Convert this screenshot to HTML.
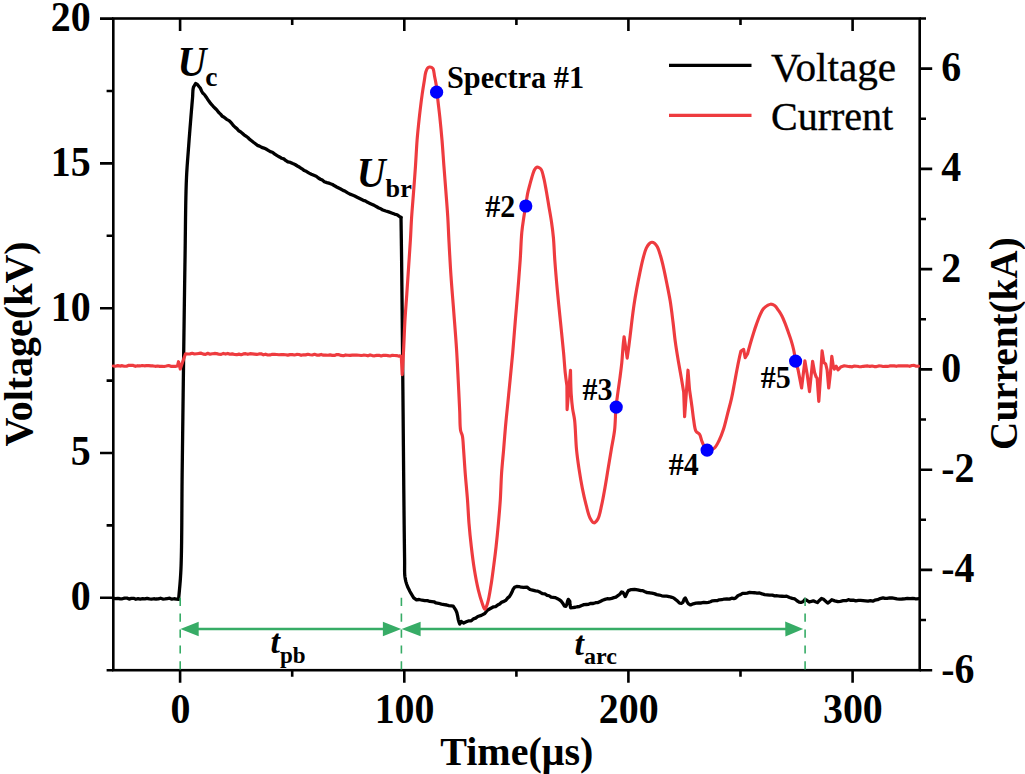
<!DOCTYPE html>
<html><head><meta charset="utf-8"><style>
html,body{margin:0;padding:0;background:#fff;}
svg{display:block;}
text{fill:#000;}
</style></head><body>
<svg width="1025" height="774" viewBox="0 0 1025 774">
<rect width="1025" height="774" fill="#fff"/>
<rect x="113.3" y="18.5" width="806.4" height="651.7" fill="none" stroke="#000" stroke-width="2.6"/>
<path d="M180.1,670.2 V682.7 M180.1,18.5 V31.0 M292.2,670.2 V676.7 M292.2,18.5 V25.0 M404.3,670.2 V682.7 M404.3,18.5 V31.0 M516.4,670.2 V676.7 M516.4,18.5 V25.0 M628.4,670.2 V682.7 M628.4,18.5 V31.0 M740.5,670.2 V676.7 M740.5,18.5 V25.0 M852.6,670.2 V682.7 M852.6,18.5 V31.0 M113.3,670.2 H106.6 M113.3,597.8 H100.0 M113.3,525.4 H106.6 M113.3,453.0 H100.0 M113.3,380.6 H106.6 M113.3,308.2 H100.0 M113.3,235.8 H106.6 M113.3,163.4 H100.0 M113.3,91.0 H106.6 M113.3,18.6 H100.0 M919.7,670.2 H932.2 M919.7,620.0 H926.0 M919.7,569.9 H932.2 M919.7,519.8 H926.0 M919.7,469.7 H932.2 M919.7,419.5 H926.0 M919.7,369.4 H932.2 M919.7,319.3 H926.0 M919.7,269.1 H932.2 M919.7,219.0 H926.0 M919.7,168.9 H932.2 M919.7,118.7 H926.0 M919.7,68.6 H932.2 M919.7,18.5 H926.0" stroke="#000" stroke-width="2.6" fill="none"/>
<line x1="198" y1="629.0" x2="383" y2="629.0" stroke="#37ac66" stroke-width="2.4"/>
<polygon points="180.4,629.0 198.7,621.7 198.7,636.3" fill="#37ac66"/>
<polygon points="401.2,629.0 382.9,621.7 382.9,636.3" fill="#37ac66"/>
<line x1="420" y1="629.0" x2="786" y2="629.0" stroke="#37ac66" stroke-width="2.4"/>
<polygon points="401.6,629.0 420.6,621.7 420.6,636.3" fill="#37ac66"/>
<polygon points="803.2,629.0 785.2,621.5 785.4,636.5" fill="#37ac66"/>
<path d="M113.30,598.29 L115.55,598.66 L117.80,598.46 L120.06,598.75 L122.31,598.78 L124.56,598.11 L126.81,598.06 L129.06,599.05 L131.31,598.37 L133.57,598.34 L135.82,599.26 L138.07,598.64 L140.32,599.09 L142.57,598.66 L144.82,598.86 L147.08,598.28 L149.33,598.87 L151.58,599.16 L153.83,598.75 L156.08,599.02 L158.33,598.94 L160.59,598.22 L162.84,599.06 L165.09,598.87 L167.34,598.53 L169.59,598.21 L171.84,599.22 L174.10,598.75 L176.35,599.06 L178.60,599.25 L178.60,599.25 L178.70,598.01 L178.84,596.54 L179.00,594.86 L179.17,592.98 L179.37,590.93 L179.57,588.71 L179.78,586.35 L179.99,583.86 L180.20,581.25 L180.40,578.54 L180.58,575.76 L180.75,572.90 L180.90,570.00 L180.97,568.41 L181.04,566.77 L181.10,565.08 L181.16,563.33 L181.21,561.53 L181.26,559.69 L181.31,557.80 L181.36,555.87 L181.40,553.90 L181.45,551.88 L181.48,549.83 L181.52,547.74 L181.55,545.61 L181.59,543.45 L181.62,541.26 L181.64,539.04 L181.67,536.80 L181.69,534.53 L181.72,532.23 L181.74,529.91 L181.76,527.57 L181.78,525.21 L181.80,522.84 L181.81,520.45 L181.83,518.05 L181.85,515.63 L181.86,513.21 L181.88,510.78 L181.89,508.34 L181.91,505.90 L181.92,503.45 L181.94,501.01 L181.95,498.56 L181.97,496.12 L181.98,493.69 L182.00,491.26 L182.02,488.84 L182.03,486.43 L182.05,484.03 L182.08,481.65 L182.10,479.28 L182.12,476.93 L182.15,474.60 L182.17,472.29 L182.20,470.00 L182.23,467.85 L182.26,465.69 L182.28,463.53 L182.31,461.36 L182.34,459.19 L182.37,457.01 L182.39,454.83 L182.42,452.64 L182.45,450.45 L182.48,448.25 L182.50,446.05 L182.53,443.85 L182.56,441.64 L182.59,439.43 L182.62,437.22 L182.64,435.01 L182.67,432.79 L182.70,430.57 L182.73,428.35 L182.75,426.13 L182.78,423.90 L182.81,421.68 L182.84,419.45 L182.87,417.23 L182.89,415.00 L182.92,412.77 L182.95,410.55 L182.98,408.32 L183.01,406.10 L183.03,403.87 L183.06,401.65 L183.09,399.43 L183.12,397.21 L183.15,394.99 L183.17,392.78 L183.20,390.57 L183.23,388.36 L183.26,386.15 L183.29,383.95 L183.31,381.75 L183.34,379.55 L183.37,377.36 L183.40,375.17 L183.43,372.99 L183.46,370.81 L183.49,368.64 L183.51,366.47 L183.54,364.31 L183.57,362.15 L183.60,360.00 L183.63,357.72 L183.66,355.45 L183.69,353.17 L183.72,350.90 L183.75,348.62 L183.78,346.34 L183.81,344.07 L183.84,341.79 L183.87,339.52 L183.90,337.24 L183.93,334.97 L183.96,332.70 L183.99,330.43 L184.03,328.17 L184.06,325.90 L184.09,323.64 L184.12,321.38 L184.15,319.12 L184.18,316.87 L184.21,314.62 L184.24,312.37 L184.27,310.13 L184.30,307.89 L184.33,305.65 L184.36,303.42 L184.39,301.19 L184.42,298.97 L184.46,296.75 L184.49,294.54 L184.52,292.33 L184.55,290.13 L184.58,287.93 L184.61,285.74 L184.64,283.56 L184.68,281.38 L184.71,279.21 L184.74,277.05 L184.77,274.89 L184.80,272.74 L184.84,270.60 L184.87,268.46 L184.90,266.33 L184.93,264.21 L184.97,262.10 L185.00,260.00 L185.04,257.65 L185.07,255.28 L185.10,252.91 L185.14,250.52 L185.17,248.13 L185.20,245.73 L185.23,243.33 L185.26,240.93 L185.28,238.52 L185.31,236.12 L185.34,233.72 L185.37,231.33 L185.40,228.94 L185.43,226.56 L185.45,224.20 L185.48,221.84 L185.51,219.50 L185.54,217.17 L185.58,214.86 L185.61,212.58 L185.64,210.31 L185.68,208.06 L185.71,205.84 L185.75,203.65 L185.79,201.48 L185.84,199.34 L185.88,197.24 L185.93,195.17 L185.98,193.13 L186.03,191.13 L186.08,189.17 L186.14,187.25 L186.20,185.37 L186.26,183.53 L186.33,181.74 L186.40,180.00 L186.52,177.28 L186.65,174.68 L186.78,172.20 L186.92,169.81 L187.07,167.50 L187.22,165.26 L187.38,163.08 L187.53,160.94 L187.69,158.83 L187.86,156.73 L188.02,154.63 L188.18,152.52 L188.34,150.38 L188.50,148.20 L188.68,145.76 L188.86,143.33 L189.04,140.89 L189.22,138.46 L189.41,136.05 L189.60,133.65 L189.78,131.27 L189.97,128.91 L190.15,126.58 L190.34,124.28 L190.52,122.02 L190.70,119.80 L190.91,117.25 L191.12,114.71 L191.33,112.19 L191.53,109.71 L191.74,107.28 L191.94,104.92 L192.13,102.64 L192.32,100.46 L192.50,98.40 L192.67,95.80 L192.77,93.30 L192.89,90.97 L193.11,88.88 L193.50,87.10 L195.60,83.50 L197.36,84.40 L199.20,86.79 L200.43,88.28 L201.53,90.96 L202.70,93.04 L204.47,94.63 L206.30,97.20 L207.68,99.29 L209.06,101.34 L210.60,103.42 L212.07,105.01 L213.66,106.84 L215.32,108.52 L217.00,110.15 L218.75,112.45 L220.55,114.12 L222.35,116.34 L224.10,117.24 L226.59,119.35 L229.10,120.65 L230.60,122.24 L232.15,123.95 L233.72,125.83 L235.31,127.42 L236.90,128.61 L238.68,130.76 L240.48,131.75 L242.27,133.22 L244.00,134.83 L245.95,136.19 L247.83,137.49 L249.70,139.35 L251.55,140.72 L253.38,142.20 L255.40,143.70 L257.37,145.35 L259.51,146.11 L261.72,147.38 L263.90,148.08 L266.05,149.03 L268.21,150.36 L270.34,151.66 L272.40,152.24 L274.80,154.11 L277.11,155.61 L279.50,156.94 L281.61,158.22 L283.79,158.88 L285.98,160.66 L288.10,161.99 L290.45,162.40 L292.73,163.49 L295.00,164.51 L297.35,166.00 L299.68,167.30 L302.00,168.78 L304.32,170.58 L306.64,171.58 L309.10,173.14 L311.37,174.28 L313.80,175.26 L316.21,176.20 L318.40,177.98 L320.44,179.26 L322.29,180.08 L324.30,181.70 L326.91,182.59 L329.72,183.43 L332.50,184.48 L334.59,185.79 L336.66,186.97 L338.70,188.04 L340.70,189.05 L343.03,190.37 L345.31,191.32 L347.70,192.84 L349.96,194.12 L352.35,195.07 L354.75,196.04 L357.10,197.24 L359.17,198.31 L361.20,199.33 L363.23,200.31 L365.30,200.90 L367.61,202.36 L369.96,203.41 L372.30,204.47 L374.60,205.60 L376.71,206.78 L378.81,208.02 L380.85,208.82 L382.80,209.96 L385.80,211.01 L388.70,211.90 L391.59,212.97 L394.50,214.06 L396.90,214.74 L399.31,216.37 L401.00,217.40" stroke="#000" stroke-width="3.3" fill="none" stroke-linejoin="round" stroke-linecap="round"/>
<path d="M401.00,217.40 L401.02,218.61 L401.04,219.98 L401.06,221.51 L401.09,223.20 L401.11,225.02 L401.14,226.97 L401.17,229.04 L401.21,231.22 L401.24,233.51 L401.27,235.89 L401.31,238.35 L401.35,240.89 L401.38,243.50 L401.42,246.16 L401.46,248.87 L401.49,251.62 L401.53,254.40 L401.57,257.19 L401.60,260.00 L401.62,261.68 L401.64,263.40 L401.66,265.16 L401.68,266.96 L401.70,268.79 L401.72,270.67 L401.74,272.57 L401.77,274.51 L401.79,276.48 L401.81,278.49 L401.83,280.52 L401.85,282.58 L401.87,284.67 L401.90,286.79 L401.92,288.93 L401.94,291.10 L401.96,293.29 L401.99,295.50 L402.01,297.73 L402.03,299.98 L402.05,302.25 L402.08,304.54 L402.10,306.84 L402.12,309.16 L402.15,311.50 L402.17,313.84 L402.19,316.20 L402.21,318.57 L402.24,320.95 L402.26,323.33 L402.28,325.72 L402.31,328.12 L402.33,330.52 L402.35,332.93 L402.38,335.34 L402.40,337.75 L402.42,340.16 L402.44,342.57 L402.47,344.97 L402.49,347.38 L402.51,349.77 L402.54,352.17 L402.56,354.55 L402.58,356.93 L402.60,359.30 L402.63,361.65 L402.65,364.00 L402.67,366.33 L402.69,368.65 L402.71,370.96 L402.74,373.24 L402.76,375.52 L402.78,377.77 L402.80,380.00 L402.82,382.23 L402.84,384.47 L402.86,386.73 L402.88,388.99 L402.91,391.27 L402.93,393.56 L402.95,395.86 L402.97,398.16 L402.99,400.48 L403.01,402.80 L403.03,405.12 L403.05,407.46 L403.07,409.79 L403.10,412.14 L403.12,414.48 L403.14,416.83 L403.16,419.18 L403.18,421.53 L403.20,423.87 L403.22,426.22 L403.24,428.57 L403.26,430.91 L403.28,433.26 L403.30,435.59 L403.32,437.93 L403.34,440.25 L403.36,442.57 L403.38,444.89 L403.41,447.19 L403.43,449.49 L403.45,451.78 L403.47,454.06 L403.49,456.32 L403.51,458.58 L403.53,460.82 L403.55,463.05 L403.57,465.27 L403.59,467.47 L403.61,469.65 L403.63,471.82 L403.65,473.97 L403.67,476.10 L403.69,478.21 L403.71,480.31 L403.73,482.38 L403.74,484.44 L403.76,486.47 L403.78,488.47 L403.80,490.46 L403.82,492.42 L403.84,494.35 L403.86,496.26 L403.88,498.15 L403.90,500.00 L403.93,502.60 L403.95,505.19 L403.98,507.78 L404.01,510.35 L404.04,512.90 L404.06,515.44 L404.09,517.95 L404.12,520.44 L404.14,522.91 L404.17,525.35 L404.20,527.76 L404.22,530.13 L404.25,532.47 L404.28,534.77 L404.30,537.03 L404.33,539.25 L404.36,541.42 L404.38,543.54 L404.41,545.60 L404.43,547.62 L404.46,549.58 L404.48,551.48 L404.51,553.32 L404.53,555.09 L404.55,556.80 L404.58,558.43 L404.60,560.00 L404.62,562.95 L404.61,565.66 L404.60,568.14 L404.59,570.43 L404.63,572.56 L404.72,574.58 L404.90,576.50 L405.32,579.24 L405.88,581.64 L406.60,584.00 L407.52,586.46 L408.61,588.87 L409.80,591.20 L411.03,593.47 L412.35,595.58 L413.70,597.82 L416.50,599.78 L419.11,599.50 L422.10,600.24 L424.70,600.63 L427.44,600.69 L429.90,601.46 L434.00,601.79 L436.04,602.94 L438.58,603.28 L441.38,604.09 L444.18,604.57 L446.74,605.00 L448.80,605.56 L451.28,605.89 L453.20,606.16 L455.80,610.20 L456.79,612.47 L457.60,615.91 L458.32,619.84 L459.06,622.41 L459.80,624.05 L461.10,621.36 L463.70,623.02 L466.27,621.83 L469.00,620.78 L471.25,620.78 L473.40,618.88 L475.63,618.14 L477.80,616.49 L481.30,615.37 L484.80,613.50 L487.40,610.19 L490.00,608.73 L493.60,606.79 L495.53,606.61 L497.62,605.09 L499.70,604.04 L501.84,602.06 L503.98,601.41 L505.90,600.28 L507.80,597.90 L509.40,596.61 L510.77,594.39 L512.00,592.06 L513.17,589.21 L514.60,587.35 L516.68,586.46 L519.00,586.53 L521.22,587.22 L523.40,587.48 L527.00,587.15 L530.00,589.49 L532.54,590.13 L535.50,590.81 L537.73,591.10 L540.18,592.33 L542.64,593.68 L544.90,593.90 L547.12,595.32 L549.18,595.75 L551.10,597.11 L555.00,597.58 L557.05,598.44 L559.21,599.65 L561.20,601.18 L562.96,603.53 L564.56,606.17 L565.90,606.31 L566.89,604.14 L567.58,601.19 L568.30,599.36 L569.80,601.22 L570.00,604.50 L570.60,607.74 L572.61,607.57 L575.30,607.24 L577.21,606.75 L579.38,606.52 L581.68,605.45 L583.99,604.60 L586.20,604.51 L588.59,604.36 L590.95,603.34 L593.28,603.48 L595.60,602.70 L597.94,602.51 L600.26,601.39 L602.60,600.20 L605.00,599.39 L607.17,598.70 L609.45,598.84 L611.73,598.37 L613.91,597.65 L615.90,597.15 L617.93,595.67 L619.84,594.28 L621.53,592.02 L622.90,592.44 L624.19,594.28 L625.20,596.61 L626.10,595.12 L627.06,592.79 L628.40,590.65 L631.30,589.56 L634.60,589.48 L637.65,589.96 L640.90,590.69 L642.88,590.67 L645.01,591.67 L647.24,592.61 L649.52,592.76 L651.80,593.10 L654.25,593.63 L656.78,594.62 L659.32,595.01 L661.85,595.78 L664.30,596.19 L666.60,596.04 L668.90,596.51 L671.15,597.15 L673.27,597.74 L675.20,599.13 L677.53,601.12 L679.58,603.22 L681.40,603.33 L682.86,602.45 L684.12,599.23 L685.30,598.02 L686.25,599.79 L687.12,601.84 L688.50,603.85 L690.57,604.95 L693.20,603.84 L696.00,603.14 L698.60,602.89 L701.26,602.98 L703.82,602.37 L706.40,602.62 L708.44,602.31 L710.44,601.76 L712.57,600.79 L715.00,600.59 L716.97,600.68 L719.23,599.79 L721.71,599.72 L724.29,599.03 L726.89,598.97 L729.41,599.13 L731.74,598.19 L733.81,598.64 L735.50,598.15 L738.15,595.47 L740.60,594.69 L742.55,593.45 L744.78,593.43 L747.18,593.08 L749.59,592.37 L751.90,592.69 L754.49,592.74 L757.03,593.17 L759.56,592.94 L762.10,593.88 L764.63,594.57 L767.14,594.80 L769.70,595.19 L772.40,595.17 L774.67,595.80 L777.09,595.75 L779.57,596.21 L782.04,596.26 L784.44,596.32 L786.70,596.25 L789.54,597.50 L792.30,598.42 L794.83,598.95 L797.00,600.73 L799.14,602.05 L801.00,602.39 L803.04,601.75 L805.10,599.31 L807.13,600.47 L809.20,602.04 L813.30,600.81 L815.38,601.73 L817.40,602.56 L819.41,600.45 L821.50,598.49 L823.50,599.36 L825.68,601.26 L827.70,603.04 L829.73,601.61 L831.80,599.75 L834.69,600.85 L837.90,601.65 L840.47,601.29 L843.19,600.71 L846.10,600.71 L848.37,599.71 L850.75,600.27 L853.23,600.11 L855.79,600.82 L858.40,600.44 L860.67,600.47 L863.08,600.63 L865.57,600.87 L868.06,601.18 L870.47,600.72 L872.74,601.18 L874.80,600.17 L877.65,599.64 L880.15,598.54 L883.00,597.87 L885.03,598.45 L887.22,598.37 L889.55,597.85 L891.98,597.99 L894.45,598.40 L896.94,598.89 L899.40,599.05 L901.85,599.00 L904.52,598.83 L907.30,598.34 L910.05,598.62 L912.67,598.38 L915.03,598.74 L917.02,598.78 L918.50,598.70" stroke="#000" stroke-width="3.3" fill="none" stroke-linejoin="round" stroke-linecap="round"/>
<path d="M113.30,365.96 L115.51,366.21 L117.73,365.59 L119.94,366.08 L122.16,365.66 L124.37,366.26 L126.58,366.20 L128.80,365.27 L131.01,365.32 L133.22,365.42 L135.44,366.33 L137.65,365.70 L139.87,365.93 L142.08,365.55 L144.29,365.81 L146.51,365.67 L148.72,365.63 L150.93,365.92 L153.15,365.93 L155.36,366.32 L157.58,366.06 L159.79,366.36 L162.00,366.28 L164.22,366.45 L166.43,366.07 L168.64,365.47 L170.86,366.31 L173.07,366.44 L175.29,366.38 L177.50,365.98 L178.50,361.70 L180.30,369.00 L184.00,358.10 L185.50,353.80 L188.10,354.00 L190.00,353.86 L192.22,353.28 L194.45,354.04 L196.67,353.76 L198.89,353.44 L201.12,353.19 L203.34,354.17 L205.56,354.35 L207.79,353.29 L210.01,354.17 L212.23,353.73 L214.46,353.44 L216.68,353.63 L218.90,354.23 L221.13,354.37 L223.35,353.40 L225.57,354.11 L227.80,353.45 L230.02,354.28 L232.24,353.84 L234.47,354.53 L236.69,354.67 L238.91,354.12 L241.14,354.74 L243.36,353.93 L245.59,353.68 L247.81,354.33 L250.03,353.67 L252.26,353.89 L254.48,354.17 L256.70,354.43 L258.93,353.91 L261.15,353.80 L263.37,354.81 L265.60,354.17 L267.82,354.97 L270.04,354.92 L272.27,354.32 L274.49,354.44 L276.71,354.54 L278.94,354.71 L281.16,354.67 L283.38,354.65 L285.61,354.75 L287.83,355.16 L290.05,354.66 L292.28,354.59 L294.50,354.96 L296.72,354.41 L298.95,354.51 L301.17,355.34 L303.39,354.82 L305.62,354.88 L307.84,354.25 L310.06,354.76 L312.29,354.98 L314.51,354.33 L316.73,355.07 L318.96,355.12 L321.18,354.45 L323.40,355.16 L325.63,354.99 L327.85,355.27 L330.07,354.90 L332.30,355.35 L334.52,355.41 L336.74,354.57 L338.97,354.64 L341.19,355.40 L343.41,355.77 L345.64,354.94 L347.86,355.21 L350.09,355.40 L352.31,355.09 L354.53,355.17 L356.76,355.13 L358.98,355.22 L361.20,355.52 L363.43,355.19 L365.65,355.30 L367.87,355.80 L370.10,354.93 L372.32,355.60 L374.54,355.82 L376.77,355.34 L378.99,355.26 L381.21,355.98 L383.44,355.32 L385.66,355.28 L387.88,355.61 L390.11,355.94 L392.33,355.25 L394.55,355.54 L396.78,355.58 L399.00,356.20 L399.50,355.80 L401.30,356.50 L402.20,374.70 L402.20,374.70 C402.35,372.25 402.82,365.20 403.10,360.00 C403.42,354.14 403.70,347.63 404.00,341.30 C404.30,334.77 404.49,328.55 404.90,321.40 C405.38,313.04 406.18,303.26 406.80,294.20 C407.42,285.16 408.00,276.13 408.60,267.10 C409.20,258.07 409.88,248.62 410.40,240.00 C410.87,232.15 411.09,225.25 411.60,217.50 C412.14,209.19 412.95,200.31 413.60,191.70 C414.25,183.08 414.92,174.43 415.50,165.80 C416.08,157.19 416.51,147.56 417.10,140.00 C417.56,134.06 418.07,129.28 418.60,124.10 C419.11,119.15 419.61,114.51 420.20,109.60 C420.81,104.52 421.49,99.07 422.20,94.10 C422.86,89.47 423.64,84.68 424.30,80.70 C424.83,77.49 425.09,74.31 425.80,72.00 C426.30,70.37 426.82,68.83 427.60,68.00 C428.15,67.42 428.84,67.11 429.50,67.00 C430.14,66.89 430.91,67.01 431.50,67.30 C432.12,67.60 432.66,68.00 433.10,68.80 C433.93,70.31 434.09,73.88 434.60,76.50 C435.13,79.21 435.71,81.55 436.20,84.80 C436.89,89.35 437.39,95.89 438.00,101.30 C438.59,106.55 439.20,111.11 439.80,116.80 C440.53,123.75 441.33,132.06 442.00,140.00 C442.70,148.37 443.25,157.19 443.90,165.80 C444.55,174.43 445.25,183.07 445.90,191.70 C446.55,200.31 447.29,209.19 447.80,217.50 C448.27,225.25 448.45,231.61 448.90,240.00 C449.47,250.64 450.18,264.15 451.00,276.20 C451.82,288.25 452.88,300.26 453.80,312.30 C454.72,324.36 455.75,336.85 456.50,348.50 C457.20,359.36 457.66,369.54 458.20,380.00 C458.73,390.37 459.27,401.86 459.70,411.00 C460.04,418.25 459.78,426.03 460.60,430.50 C461.05,432.93 461.93,433.72 462.40,436.00 C463.12,439.53 463.19,444.60 463.60,449.80 C464.12,456.53 464.58,464.98 465.20,473.00 C465.87,481.66 466.85,491.33 467.50,500.00 C468.10,508.05 468.37,515.55 469.00,523.30 C469.63,531.05 470.40,538.77 471.30,546.50 C472.20,554.27 473.18,562.34 474.40,569.80 C475.54,576.76 476.86,583.94 478.30,589.90 C479.47,594.76 480.83,599.46 482.10,603.00 C483.00,605.51 483.88,609.29 484.80,609.30 C485.72,609.31 486.76,605.69 487.60,603.00 C488.97,598.65 489.99,591.41 491.00,585.30 C492.07,578.80 492.93,571.70 493.80,565.10 C494.63,558.78 495.37,553.05 496.10,546.50 C496.91,539.20 497.70,531.04 498.40,523.30 C499.10,515.54 499.78,508.06 500.30,500.00 C500.86,491.34 501.02,481.65 501.60,473.00 C502.14,464.97 502.95,457.54 503.60,449.80 C504.25,442.04 504.80,434.26 505.50,426.50 C506.20,418.76 507.03,411.04 507.80,403.30 C508.57,395.54 509.31,388.05 510.10,380.00 C510.95,371.33 511.88,362.31 512.70,353.00 C513.58,343.03 514.35,332.33 515.20,322.00 C516.05,311.67 516.97,301.33 517.80,291.00 C518.63,280.67 519.52,270.04 520.20,260.00 C520.84,250.54 521.07,240.09 521.80,232.40 C522.33,226.85 523.02,222.67 523.70,218.10 C524.33,213.87 525.05,209.98 525.70,205.90 C526.35,201.81 526.81,197.50 527.60,193.60 C528.33,190.00 529.31,186.62 530.20,183.30 C531.04,180.17 531.95,176.70 532.80,174.20 C533.41,172.39 533.84,170.82 534.60,169.60 C535.20,168.63 535.90,167.59 536.70,167.30 C537.39,167.05 538.29,167.28 539.00,167.60 C539.80,167.96 540.55,168.51 541.20,169.50 C542.34,171.25 543.01,174.92 543.80,178.10 C544.75,181.94 545.49,186.50 546.30,191.00 C547.19,195.92 548.03,201.33 548.90,206.50 C549.77,211.67 550.75,216.83 551.50,222.00 C552.25,227.16 552.88,231.84 553.40,237.50 C554.03,244.29 554.21,251.90 554.80,260.00 C555.49,269.51 556.45,280.67 557.40,291.00 C558.35,301.34 559.47,311.67 560.50,322.00 C561.53,332.33 562.75,343.74 563.60,353.00 C564.29,360.51 564.67,367.45 565.30,373.40 C565.79,378.05 566.63,383.73 566.90,385.80 L566.90,385.80 L567.10,409.60 L570.50,370.30 L570.50,370.30 C570.62,374.25 570.77,387.06 571.20,394.00 C571.54,399.46 571.98,404.05 572.60,408.60 C573.15,412.65 574.04,415.30 574.60,420.00 C575.50,427.50 575.65,440.63 576.50,449.40 C577.19,456.55 578.03,462.35 579.00,468.80 C579.97,475.25 581.07,481.91 582.30,488.10 C583.45,493.91 584.73,499.68 586.10,504.90 C587.32,509.53 588.33,514.72 590.00,517.90 C591.13,520.06 592.55,522.71 593.90,522.80 C595.15,522.89 596.69,520.95 597.80,519.10 C599.63,516.04 600.55,509.86 601.70,504.90 C602.94,499.56 603.87,493.90 604.90,488.10 C606.01,481.90 607.03,475.24 608.10,468.80 C609.17,462.34 610.22,455.87 611.30,449.40 C612.38,442.93 613.82,436.75 614.60,430.00 C615.44,422.73 615.36,413.97 616.00,407.20 C616.52,401.73 617.24,397.29 617.90,392.40 C618.55,387.59 619.26,382.97 619.90,378.10 C620.56,373.04 621.27,367.88 621.80,362.60 C622.35,357.12 622.65,350.53 623.10,345.80 C623.43,342.33 623.93,338.30 624.10,336.80 L624.10,336.80 L627.20,358.10 L628.90,345.80 L628.90,345.80 C629.22,343.22 630.25,334.94 630.80,330.30 C631.25,326.52 631.53,323.76 632.00,320.00 C632.57,315.44 633.24,309.96 634.00,304.90 C634.77,299.76 635.64,294.66 636.60,289.40 C637.60,283.91 638.77,277.96 639.90,272.60 C640.94,267.66 641.94,262.73 643.10,258.40 C644.10,254.67 645.07,250.69 646.30,248.10 C647.13,246.35 647.95,244.99 649.00,244.00 C649.87,243.18 650.94,242.38 651.90,242.30 C652.77,242.23 653.69,242.71 654.50,243.30 C655.53,244.05 656.45,245.27 657.30,246.80 C658.54,249.03 659.50,252.50 660.50,255.80 C661.69,259.71 662.76,264.26 663.80,268.80 C664.93,273.73 665.95,279.03 667.00,284.30 C668.09,289.78 669.24,295.18 670.20,301.10 C671.27,307.67 672.14,315.12 673.00,322.00 C673.84,328.69 674.44,335.48 675.30,341.80 C676.09,347.64 676.96,352.90 677.90,358.60 C678.88,364.53 680.10,370.90 681.10,376.70 C682.02,382.06 683.27,389.62 683.70,392.20 L683.70,392.20 L684.60,416.70 L688.00,370.20 L689.50,389.60 L689.50,389.60 C689.93,392.62 691.37,402.31 692.10,407.70 C692.69,412.05 692.95,415.59 693.60,419.50 C694.25,423.42 694.52,428.69 696.00,431.20 C696.93,432.78 698.63,432.86 699.60,434.30 C700.86,436.18 701.02,439.46 702.20,442.00 C703.47,444.74 704.92,449.23 707.10,450.10 C709.01,450.87 712.15,449.63 714.10,448.20 C716.35,446.54 717.79,442.97 719.30,440.00 C720.92,436.81 722.14,433.45 723.40,429.60 C724.91,424.99 726.14,419.35 727.50,414.10 C728.90,408.69 730.51,402.95 731.70,397.60 C732.81,392.60 733.61,387.73 734.50,383.00 C735.34,378.54 736.06,374.31 736.90,370.00 C737.73,365.71 738.75,360.70 739.50,357.20 C740.02,354.76 740.67,352.03 740.90,351.00 L740.90,351.00 L743.60,349.40 L745.20,357.70 L747.50,354.00 L747.50,354.00 C747.97,352.28 749.32,347.13 750.30,343.70 C751.29,340.26 752.34,336.74 753.40,333.40 C754.41,330.21 755.39,327.19 756.50,324.10 C757.62,320.99 758.86,317.49 760.10,314.80 C761.10,312.63 761.92,310.69 763.20,309.10 C764.39,307.63 766.04,306.34 767.40,305.50 C768.46,304.85 769.38,304.25 770.50,304.20 C771.76,304.14 773.35,304.64 774.60,305.50 C776.15,306.57 777.48,308.94 778.70,310.70 C779.86,312.37 780.82,313.91 781.80,315.80 C782.94,317.98 783.99,320.58 785.00,323.10 C786.06,325.74 787.00,328.48 788.00,331.30 C789.06,334.30 790.25,337.47 791.20,340.60 C792.15,343.71 792.98,346.76 793.70,350.00 C794.46,353.41 794.84,357.20 795.60,360.60 C796.32,363.82 797.68,368.35 798.10,369.90 L798.10,369.90 L801.60,388.00 L804.90,360.80 L807.20,374.40 L809.50,391.60 L812.60,361.30 L814.60,372.60 L816.20,377.10 L817.10,378.00 L818.80,401.50 L820.30,379.80 L822.10,350.90 L823.90,362.60 L825.70,364.00 L827.10,369.90 L828.70,388.00 L830.30,374.40 L831.80,356.30 L833.40,367.10 L834.30,369.00 L836.20,366.20 L838.00,369.90 L840.70,367.10 L844.30,365.80 L850.00,366.70 L850.00,366.44 L852.21,366.83 L854.42,366.12 L856.63,366.27 L858.84,366.56 L861.05,366.77 L863.26,366.32 L865.47,366.07 L867.68,365.94 L869.89,366.33 L872.10,365.96 L874.31,366.56 L876.52,366.57 L878.73,365.89 L880.94,365.96 L883.15,366.47 L885.35,366.28 L887.56,366.42 L889.77,365.94 L891.98,365.70 L894.19,365.84 L896.40,366.32 L898.61,365.77 L900.82,365.83 L903.03,365.87 L905.24,365.86 L907.45,365.82 L909.66,366.31 L911.87,365.52 L914.08,365.35 L916.29,366.27 L918.50,366.18" stroke="#ee3b3f" stroke-width="3.15" fill="none" stroke-linejoin="round" stroke-linecap="round"/>
<line x1="180.2" y1="597.7" x2="180.2" y2="670" stroke="#37ac66" stroke-width="1.6" stroke-dasharray="8.2 7.7"/>
<line x1="401.4" y1="597.7" x2="401.4" y2="670" stroke="#37ac66" stroke-width="1.6" stroke-dasharray="8.2 7.7"/>
<line x1="805.1" y1="597.7" x2="805.1" y2="670" stroke="#37ac66" stroke-width="1.6" stroke-dasharray="8.2 7.7"/>
<circle cx="436.6" cy="92.2" r="6.6" fill="#0000ff"/>
<circle cx="525.8" cy="206" r="6.6" fill="#0000ff"/>
<circle cx="616.2" cy="407.1" r="6.6" fill="#0000ff"/>
<circle cx="707.1" cy="450.1" r="6.6" fill="#0000ff"/>
<circle cx="795.6" cy="361.1" r="6.6" fill="#0000ff"/>
<line x1="669" y1="65.4" x2="751.5" y2="65.4" stroke="#000" stroke-width="3.2"/>
<line x1="669" y1="115.4" x2="751.5" y2="115.4" stroke="#ee3b3f" stroke-width="3.1"/>
<text transform="translate(90.6 31.0) scale(0.95 1.0)" font-size="42" text-anchor="end" style="font-family:'Liberation Serif',serif;font-weight:bold">20</text>
<text transform="translate(90.6 175.8) scale(0.95 1.0)" font-size="42" text-anchor="end" style="font-family:'Liberation Serif',serif;font-weight:bold">15</text>
<text transform="translate(90.6 320.6) scale(0.95 1.0)" font-size="42" text-anchor="end" style="font-family:'Liberation Serif',serif;font-weight:bold">10</text>
<text transform="translate(90.6 465.4) scale(0.95 1.0)" font-size="42" text-anchor="end" style="font-family:'Liberation Serif',serif;font-weight:bold">5</text>
<text transform="translate(90.6 610.2) scale(0.95 1.0)" font-size="42" text-anchor="end" style="font-family:'Liberation Serif',serif;font-weight:bold">0</text>
<text transform="translate(941.2 81.1) scale(0.95 1.0)" font-size="42" text-anchor="start" style="font-family:'Liberation Serif',serif;font-weight:bold">6</text>
<text transform="translate(941.2 181.4) scale(0.95 1.0)" font-size="42" text-anchor="start" style="font-family:'Liberation Serif',serif;font-weight:bold">4</text>
<text transform="translate(941.2 281.6) scale(0.95 1.0)" font-size="42" text-anchor="start" style="font-family:'Liberation Serif',serif;font-weight:bold">2</text>
<text transform="translate(941.2 381.9) scale(0.95 1.0)" font-size="42" text-anchor="start" style="font-family:'Liberation Serif',serif;font-weight:bold">0</text>
<text transform="translate(941.2 482.2) scale(0.95 1.0)" font-size="42" text-anchor="start" style="font-family:'Liberation Serif',serif;font-weight:bold">-2</text>
<text transform="translate(941.2 582.4) scale(0.95 1.0)" font-size="42" text-anchor="start" style="font-family:'Liberation Serif',serif;font-weight:bold">-4</text>
<text transform="translate(941.2 682.7) scale(0.95 1.0)" font-size="42" text-anchor="start" style="font-family:'Liberation Serif',serif;font-weight:bold">-6</text>
<text transform="translate(180.4 723.0) scale(0.95 1.0)" font-size="42" text-anchor="middle" style="font-family:'Liberation Serif',serif;font-weight:bold">0</text>
<text transform="translate(404.6 723.0) scale(0.95 1.0)" font-size="42" text-anchor="middle" style="font-family:'Liberation Serif',serif;font-weight:bold">100</text>
<text transform="translate(628.7 723.0) scale(0.95 1.0)" font-size="42" text-anchor="middle" style="font-family:'Liberation Serif',serif;font-weight:bold">200</text>
<text transform="translate(852.9 723.0) scale(0.95 1.0)" font-size="42" text-anchor="middle" style="font-family:'Liberation Serif',serif;font-weight:bold">300</text>
<text transform="translate(516.8 765.2) scale(1.0 1.02)" font-size="40" text-anchor="middle" style="font-family:'Liberation Serif',serif;font-weight:bold">Time(μs)</text>
<text x="31.8" y="344" font-size="40" text-anchor="middle" style="font-family:'Liberation Serif',serif;font-weight:bold" transform="rotate(-90 31.8 344)">Voltage(kV)</text>
<text font-size="40" text-anchor="middle" style="font-family:'Liberation Serif',serif;font-weight:bold" transform="translate(1017 343.6) rotate(-90) scale(0.98 1)">Current(kA)</text>
<text transform="translate(771.0 80.5) scale(1.03 1.0)" font-size="40" text-anchor="start" style="font-family:'Liberation Serif',serif;stroke:#000;stroke-width:0.35">Voltage</text>
<text x="771.0" y="130.0" font-size="40" text-anchor="start" style="font-family:'Liberation Serif',serif;stroke:#000;stroke-width:0.35">Current</text>
<text transform="translate(177.5 75.5) scale(1.0 1.06)" font-size="40" text-anchor="start" style="font-family:'Liberation Serif',serif;font-weight:bold;font-style:italic">U</text>
<text x="205.3" y="86.3" font-size="27.5" text-anchor="start" style="font-family:'Liberation Serif',serif;font-weight:bold">c</text>
<text transform="translate(356.7 186.8) scale(1.0 1.04)" font-size="40" text-anchor="start" style="font-family:'Liberation Serif',serif;font-weight:bold;font-style:italic">U</text>
<text transform="translate(385.6 196.8) scale(1.0 0.93)" font-size="26.2" text-anchor="start" style="font-family:'Liberation Serif',serif;font-weight:bold">br</text>
<text transform="translate(447.0 88.2) scale(1.0 1.07)" font-size="30.3" text-anchor="start" style="font-family:'Liberation Serif',serif;font-weight:bold">Spectra #1</text>
<text transform="translate(485.3 217.2) scale(1.0 1.07)" font-size="30" text-anchor="start" style="font-family:'Liberation Serif',serif;font-weight:bold">#2</text>
<text transform="translate(582.6 400.0) scale(1.0 1.07)" font-size="30" text-anchor="start" style="font-family:'Liberation Serif',serif;font-weight:bold">#3</text>
<text transform="translate(668.8 475.2) scale(1.0 1.07)" font-size="30" text-anchor="start" style="font-family:'Liberation Serif',serif;font-weight:bold">#4</text>
<text transform="translate(760.7 387.6) scale(1.0 1.07)" font-size="30" text-anchor="start" style="font-family:'Liberation Serif',serif;font-weight:bold">#5</text>
<text x="270.5" y="653.4" style="font-family:'Liberation Serif',serif;font-weight:bold;font-style:italic" font-size="34">t</text>
<text x="280" y="663.2" style="font-family:'Liberation Serif',serif;font-weight:bold" font-size="23">pb</text>
<text x="574.6" y="654.6" style="font-family:'Liberation Serif',serif;font-weight:bold;font-style:italic" font-size="34">t</text>
<text x="584" y="663.5" style="font-family:'Liberation Serif',serif;font-weight:bold" font-size="24">arc</text>
</svg>
</body></html>
